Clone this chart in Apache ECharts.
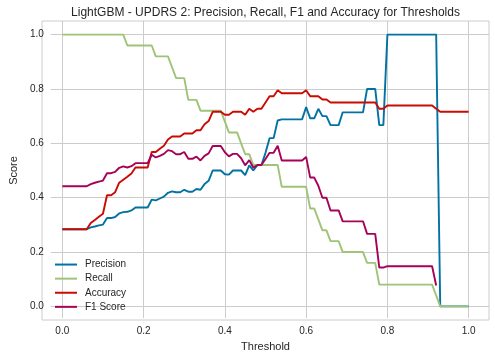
<!DOCTYPE html>
<html><head><meta charset="utf-8">
<script src="https://cdn.jsdelivr.net/npm/echarts@6/dist/echarts.min.js"></script>
<style>html,body{margin:0;padding:0;background:#fff}#c{width:495px;height:357px}</style>
</head><body><div id="c"></div>
<script>
const thresholds = [0.00,0.01,0.02,0.03,0.04,0.05,0.06,0.07,0.08,0.09,
0.10,0.11,0.12,0.13,0.14,0.15,0.16,0.17,0.18,0.19,
0.20,0.21,0.22,0.23,0.24,0.25,0.26,0.27,0.28,0.29,
0.30,0.31,0.32,0.33,0.34,0.35,0.36,0.37,0.38,0.39,
0.40,0.41,0.42,0.43,0.44,0.45,0.46,0.47,0.48,0.49,
0.50,0.51,0.52,0.53,0.54,0.55,0.56,0.57,0.58,0.59,
0.60,0.61,0.62,0.63,0.64,0.65,0.66,0.67,0.68,0.69,
0.70,0.71,0.72,0.73,0.74,0.75,0.76,0.77,0.78,0.79,
0.80,0.81,0.82,0.83,0.84,0.85,0.86,0.87,0.88,0.89,
0.90,0.91,0.92,0.93,0.94,0.95,0.96,0.97,0.98,0.99,1.00];

const precision = [0.284,0.284,0.284,0.284,0.284,0.284,0.284,0.291,0.294,0.298,
0.301,0.325,0.325,0.329,0.342,0.347,0.348,0.353,0.364,0.364,
0.364,0.364,0.393,0.390,0.397,0.404,0.418,0.423,0.420,0.420,
0.429,0.422,0.422,0.432,0.429,0.450,0.462,0.500,0.500,0.500,
0.486,0.485,0.500,0.500,0.500,0.483,0.519,0.500,0.520,0.520,
0.565,0.619,0.619,0.684,0.688,0.688,0.688,0.688,0.688,0.688,
0.733,0.692,0.692,0.727,0.700,0.700,0.667,0.667,0.667,0.714,
0.714,0.714,0.714,0.714,0.714,0.800,0.800,0.800,0.667,0.667,
1.000,1.000,1.000,1.000,1.000,1.000,1.000,1.000,1.000,1.000,
1.000,1.000,1.000,0.000,0.000,0.000,0.000,0.000,0.000,0.000,0.000];

const recall = [1.00,1.00,1.00,1.00,1.00,1.00,1.00,1.00,1.00,1.00,
1.00,1.00,1.00,1.00,1.00,1.00,0.96,0.96,0.96,0.96,
0.96,0.96,0.96,0.92,0.92,0.92,0.92,0.88,0.84,0.84,
0.84,0.76,0.76,0.76,0.72,0.72,0.72,0.72,0.72,0.72,
0.68,0.64,0.64,0.64,0.60,0.56,0.56,0.52,0.52,0.52,
0.52,0.52,0.52,0.52,0.44,0.44,0.44,0.44,0.44,0.44,
0.44,0.36,0.36,0.32,0.28,0.28,0.24,0.24,0.24,0.20,
0.20,0.20,0.20,0.20,0.20,0.16,0.16,0.16,0.08,0.08,
0.08,0.08,0.08,0.08,0.08,0.08,0.08,0.08,0.08,0.08,
0.08,0.08,0.04,0.00,0.00,0.00,0.00,0.00,0.00,0.00,0.00];

const accuracy = [0.284,0.284,0.284,0.284,0.284,0.284,0.284,0.307,0.318,0.330,
0.341,0.409,0.409,0.420,0.455,0.466,0.477,0.489,0.511,0.511,
0.511,0.511,0.568,0.568,0.580,0.591,0.614,0.625,0.625,0.625,
0.636,0.636,0.636,0.648,0.648,0.670,0.682,0.716,0.716,0.716,
0.705,0.705,0.716,0.716,0.716,0.705,0.727,0.716,0.727,0.727,
0.750,0.773,0.773,0.795,0.784,0.784,0.784,0.784,0.784,0.784,
0.795,0.773,0.773,0.773,0.761,0.761,0.750,0.750,0.750,0.750,
0.750,0.750,0.750,0.750,0.750,0.750,0.750,0.750,0.727,0.727,
0.739,0.739,0.739,0.739,0.739,0.739,0.739,0.739,0.739,0.739,
0.739,0.739,0.727,0.716,0.716,0.716,0.716,0.716,0.716,0.716,0.716];

const f1 = [0.442,0.442,0.442,0.442,0.442,0.442,0.442,0.450,0.455,0.459,
0.463,0.490,0.490,0.495,0.510,0.515,0.511,0.516,0.527,0.527,
0.527,0.527,0.558,0.548,0.554,0.561,0.575,0.571,0.560,0.560,
0.568,0.543,0.543,0.551,0.537,0.554,0.563,0.590,0.590,0.590,
0.567,0.552,0.561,0.561,0.545,0.519,0.538,0.510,0.520,0.520,
0.542,0.565,0.565,0.591,0.537,0.537,0.537,0.537,0.537,0.537,
0.550,0.474,0.474,0.444,0.400,0.400,0.353,0.353,0.353,0.313,
0.313,0.313,0.313,0.313,0.313,0.267,0.267,0.267,0.143,0.143,
0.148,0.148,0.148,0.148,0.148,0.148,0.148,0.148,0.148,0.148,
0.148,0.148,0.077,null,null,null,null,null,null,null,null];

const xTickLabels = ['0.0','0.2','0.4','0.6','0.8','1.0'];
const yTickLabels = ['0.0','0.2','0.4','0.6','0.8','1.0'];
const seriesNames = ['Precision','Recall','Accuracy','F1 Score'];
const seriesColors = ['#0272a2','#9fc377','#ca0b03','#a50258'];

const FONT = '"Liberation Sans", Arial, sans-serif';
const TXT = '#262626';
const GRIDC = '#cccccc';

function pairs(vals){
  const out = [];
  for (let i = 0; i < thresholds.length; i++) {
    if (vals[i] !== null) out.push([thresholds[i], vals[i]]);
  }
  return out;
}
const allVals = [precision, recall, accuracy, f1];

const chart = echarts.init(document.getElementById('c'), null, {renderer:'canvas'});
chart.setOption({
  animation: false,
  backgroundColor: '#ffffff',
  textStyle: {fontFamily: FONT},
  graphic: [{
    type: 'text', x: 265.5, y: 12.5,
    style: {text: 'LightGBM - UPDRS 2: Precision, Recall, F1 and Accuracy for Thresholds',
      fill: TXT, font: '12px ' + FONT, textAlign: 'center', textVerticalAlign: 'middle'}
  }],
  grid: [
    {left: 42, right: 6, top: 21, bottom: 37, show: true, borderColor: GRIDC, borderWidth: 1, backgroundColor: 'transparent'},
    {left: 62.3, right: 26.3, top: 21, bottom: 37, show: false},
    {left: 42, right: 6, top: 34.6, bottom: 50.6, show: false}
  ],
  xAxis: [
    {gridIndex: 0, type: 'value', min: -0.05, max: 1.05, show: false},
    {gridIndex: 1, type: 'value', min: 0, max: 1, interval: 0.2,
      axisLine: {show: false}, axisTick: {show: false},
      splitLine: {show: true, lineStyle: {color: GRIDC, width: 1}},
      axisLabel: {color: TXT, fontSize: 10, fontFamily: FONT, margin: 8,
        formatter: v => xTickLabels[Math.round(v / 0.2)]},
      name: 'Threshold', nameLocation: 'middle', nameGap: 17,
      nameTextStyle: {color: TXT, fontSize: 11, fontFamily: FONT}},
    {gridIndex: 2, type: 'value', min: 0, max: 1, show: false}
  ],
  yAxis: [
    {gridIndex: 0, type: 'value', min: -0.05, max: 1.05, show: false},
    {gridIndex: 1, type: 'value', min: 0, max: 1, show: false},
    {gridIndex: 2, type: 'value', min: 0, max: 1, interval: 0.2,
      axisLine: {show: false}, axisTick: {show: false},
      splitLine: {show: true, lineStyle: {color: GRIDC, width: 1}},
      axisLabel: {color: TXT, fontSize: 10, fontFamily: FONT, margin: 7,
        formatter: v => yTickLabels[Math.round(v / 0.2)]},
      name: 'Score', nameLocation: 'middle', nameGap: 28, nameRotate: 90,
      nameTextStyle: {color: TXT, fontSize: 11, fontFamily: FONT}}
  ],
  legend: {
    orient: 'vertical', left: 50, top: 252.5, itemGap: 0,
    itemWidth: 22, itemHeight: 2, icon: 'rect',
    textStyle: {color: TXT, fontSize: 10, fontFamily: FONT, lineHeight: 14.1, padding: [0,0,0,3]},
    data: seriesNames
  },
  series: seriesNames.map((name, k) => ({
    name: name, type: 'line', xAxisIndex: 0, yAxisIndex: 0,
    data: pairs(allVals[k]), showSymbol: false, symbol: 'none',
    lineStyle: {color: seriesColors[k], width: 1.9}, itemStyle: {color: seriesColors[k]},
    z: 3 + k
  }))
});
</script>
</body></html>
